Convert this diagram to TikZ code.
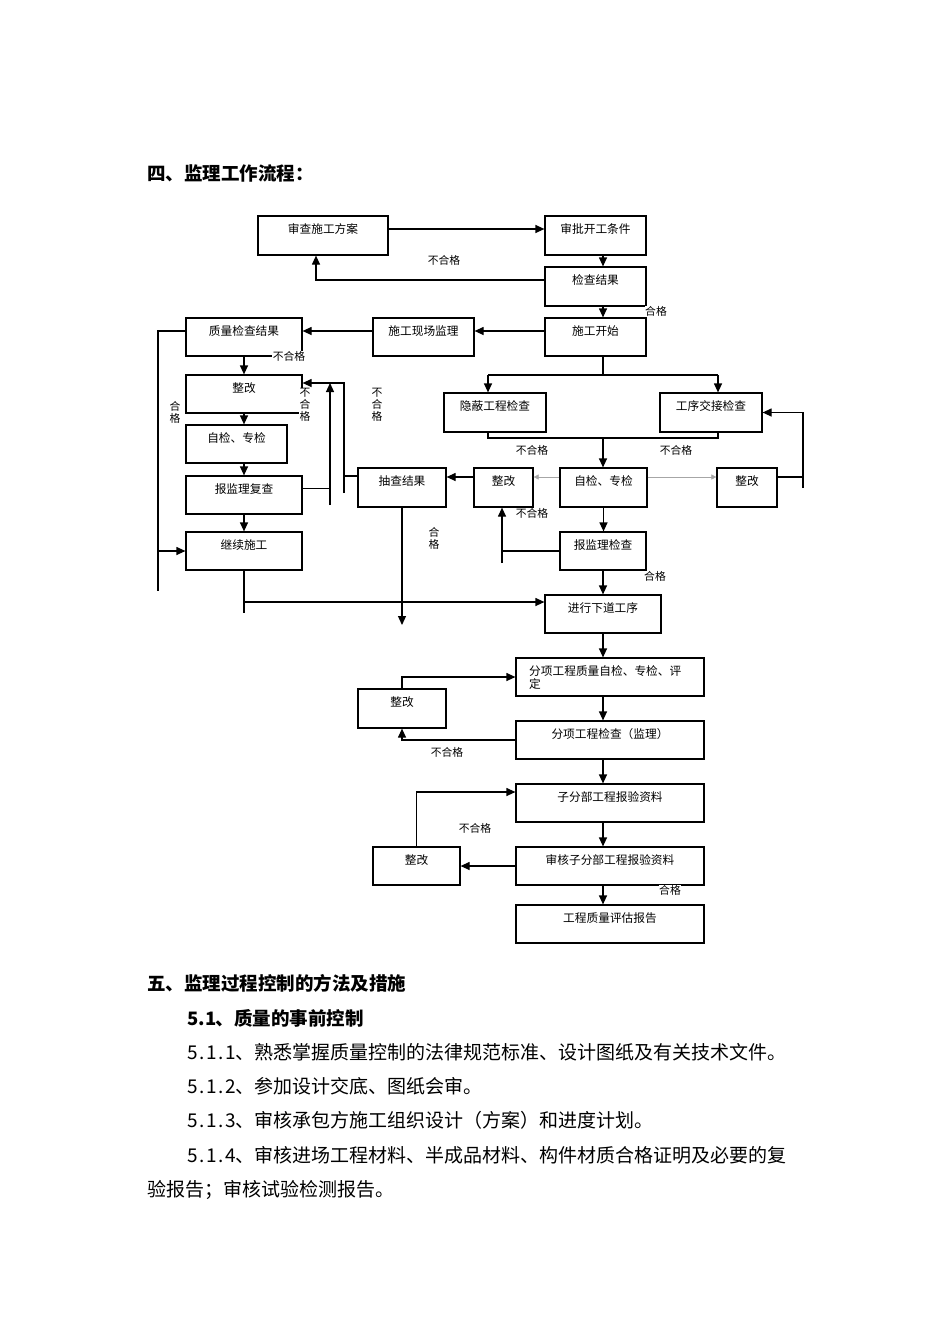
\documentclass[tikz,border=0pt]{standalone}
\usepackage{fontspec}
\setmainfont{Noto Sans CJK SC}
\usetikzlibrary{arrows.meta}
\newcommand\hw[1]{\makebox[0.5em]{#1}}
\newcommand\bxf{\fontsize{11.7}{13}\selectfont}
\newcommand\lbf{\fontsize{10.8}{12}\selectfont}
\begin{document}
\begin{tikzpicture}[x=1pt,y=-1pt,
  box/.style={draw, line width=1.2pt, inner sep=0pt, minimum height=39pt, text height=10pt, text depth=14pt, font=\bxf},
  ln/.style={line width=1.2pt},
  arr/.style={ln, -{Triangle[length=9pt,width=8pt]}},
  faint/.style={line width=0.6pt, draw=black!35, -{Triangle[length=5pt,width=5pt]}},
  lab/.style={inner sep=0.5pt, font=\lbf, fill=white},
  vlab/.style={inner sep=0.5pt, font=\lbf, align=center, fill=white},
  body/.style={anchor=base west, inner sep=0pt, font=\fontsize{19}{19}\selectfont},
  head/.style={anchor=base west, inner sep=0pt, font=\fontsize{18.5}{19}\selectfont\bfseries}]
\useasboundingbox (0,0) rectangle (950,1344);

% headings
\node[head] (h4) at (147,180) {四、监理工作流程：};

% boxes
\node[box, minimum width=130pt] (n1) at (323,235.5) {审查施工方案};
\node[box, minimum width=101pt] (n2) at (595.5,235.5) {审批开工条件};
\node[box, minimum width=101pt] (n3) at (595.5,286.5) {检查结果};
\node[box, minimum width=101pt, minimum height=38pt] (n4) at (595.5,337) {施工开始};
\node[box, minimum width=101pt, minimum height=38pt] (n5) at (423.5,337) {施工现场监理};
\node[box, minimum width=116pt, minimum height=38pt] (n6) at (244,337) {质量检查结果};
\node[box, minimum width=116pt, minimum height=38pt] (n7) at (244,394) {整改};
\node[box, minimum width=101pt, minimum height=38pt] (n8) at (236.5,444) {自检、专检};
\node[box, minimum width=116pt, minimum height=38pt] (n9) at (244,495) {报监理复查};
\node[box, minimum width=116pt, minimum height=38pt] (n10) at (244,551) {继续施工};
\node[box, minimum width=88pt] (n11) at (402,487.5) {抽查结果};
\node[box, minimum width=102pt] (n12) at (495,412.5) {隐蔽工程检查};
\node[box, minimum width=102pt] (n13) at (711,412.5) {工序交接检查};
\node[box, minimum width=59pt] (n14) at (503.5,487.5) {整改};
\node[box, minimum width=87pt] (n15) at (603.5,487.5) {自检、专检};
\node[box, minimum width=60pt] (n16) at (747,487.5) {整改};
\node[box, minimum width=86pt, minimum height=38pt] (n17) at (603,551) {报监理检查};
\node[box, minimum width=116pt, minimum height=38pt] (n18) at (603,614) {进行下道工序};
\node[box, minimum width=188pt, minimum height=38pt] (n19) at (610,677) {};
\node[anchor=base west, inner sep=0pt, align=left, font=\bxf] (n19t) at (529,688.5) {分项工程质量自检、专检、评\\定};
\node[box, minimum width=88pt] (n20) at (402,708.5) {整改};
\node[box, minimum width=188pt, minimum height=38pt] (n21) at (610,740) {分项工程检查（监理）};
\node[box, minimum width=188pt, minimum height=38pt] (n22) at (610,803) {子分部工程报验资料};
\node[box, minimum width=188pt, minimum height=38pt] (n23) at (610,866) {审核子分部工程报验资料};
\node[box, minimum width=87pt, minimum height=38pt] (n24) at (416.5,866) {整改};
\node[box, minimum width=188pt, minimum height=38pt] (n25) at (610,924) {工程质量评估报告};

% free-end coordinates
\coordinate (L0) at (158,331);
\coordinate (L1) at (158,591);
\coordinate (V1b) at (330,505);
\coordinate (V1t) at (330,383);
\coordinate (V2b) at (344,493);
\coordinate (V2t) at (344,383);
\coordinate (D1) at (402,625);
\coordinate (C1) at (244,613);
\coordinate (S1) at (603,375);
\coordinate (S1a) at (488,375);
\coordinate (S1b) at (718,375);
\coordinate (S2) at (603,438);
\coordinate (V3b) at (803,488);
\coordinate (V4b) at (502,563);

% top chain
\draw[arr] ([yshift=6.5pt]n1.east) -- ([yshift=6.5pt]n2.west);
\draw[arr] ([xshift=7.5pt]n2.south) -- ([xshift=7.5pt]n3.north);
\draw[arr] ([yshift=6.5pt]n3.west) -| ([xshift=-7pt]n1.south);
\draw[arr] ([xshift=7.5pt]n3.south) -- ([xshift=7.5pt]n4.north);
\draw[arr] ([yshift=6pt]n4.west) -- ([yshift=6pt]n5.east);
\draw[arr] ([yshift=6pt]n5.west) -- ([yshift=6pt]n6.east);

% left column
\draw[arr] (n6.south) -- (n7.north);
\draw[arr] (n7.south) -- (n7.south |- n8.north);
\draw[arr] (n7.south |- n8.south) -- (n9.north);
\draw[arr] (n9.south) -- (n10.north);
\draw[ln] ([yshift=6pt]n6.west) -- (L0) -- (L1);
\draw[arr] (L0 |- n10.west) -- (n10.west);
\draw[ln] ([yshift=6.5pt]n9.east) -- ([yshift=6.5pt]n9.east -| V1b);
\draw[arr] (V1b) -- (V1t);
\draw[ln] ([yshift=11.5pt]n11.west) -- ([yshift=11.5pt]n11.west -| V2b);
\draw[arr] (V2b) -- (V2t) -- ([yshift=11pt]n7.east);
\draw[ln] (n10.south) -- (C1);
\draw[arr] (n10.south |- 0,602) -- ([yshift=12pt]n18.west);
\draw[arr] (n11.south) -- (D1);

% middle
\draw[ln] ([xshift=7.5pt]n4.south) -- (S1);
\draw[ln] (S1a) -- (S1b);
\draw[arr] (S1a) -- ([xshift=-7pt]n12.north);
\draw[arr] (S1b) -- ([xshift=7pt]n13.north);
\draw[ln] ([xshift=-7pt]n12.south) |- (S2) -| ([xshift=7pt]n13.south);
\draw[arr] (S2) -- (S2 |- n15.north);
\draw[arr] ([yshift=10.5pt]n14.west) -- ([yshift=10.5pt]n11.east);
\draw[faint] ([yshift=10.5pt]n15.west) -- ([yshift=10.5pt]n14.east);
\draw[faint] ([yshift=10.5pt]n15.east) -- ([yshift=10.5pt]n16.west);
\draw[ln] ([yshift=10.5pt]n16.east) -- ([yshift=10.5pt]n16.east -| V3b);
\draw[arr] (V3b) |- (n13.east);
\draw[arr] (n15.south) -- (n15.south |- n17.north);
\draw[ln] (n17.west) -- (n17.west -| V4b);
\draw[arr] (V4b) -- (V4b |- n14.south);
\draw[arr] (n17.south) -- (n18.north);

% lower chain
\draw[arr] (n18.south) -- (n18.south |- n19.north);
\draw[arr] (n20.north) |- (n19.west);
\draw[arr] (n18.south |- n19.south) -- (n18.south |- n21.north);
\draw[arr] (n21.west) -| (n20.south);
\draw[arr] (n18.south |- n21.south) -- (n18.south |- n22.north);
\draw[arr] (n18.south |- n22.south) -- (n18.south |- n23.north);
\draw[arr] (n23.west) -- (n24.east);
\draw[arr] (n24.north) |- ([yshift=11pt]n22.west);
\draw[arr] (n18.south |- n23.south) -- (n18.south |- n25.north);

% labels
\node[lab] (t1) at (444,260) {不合格};
\node[lab] (t2) at (656,311) {合格};
\node[lab] (t3) at (289,356) {不合格};
\node[vlab] (t4) at (175,412) {合\\格};
\node[vlab] (t5) at (305,405) {不\\合\\格};
\node[vlab] (t6) at (377,405) {不\\合\\格};
\node[lab] (t7) at (532,450) {不合格};
\node[lab] (t8) at (676,450) {不合格};
\node[lab] (t9) at (532,513) {不合格};
\node[vlab] (t10) at (434,538) {合\\格};
\node[lab] (t11) at (655,576) {合格};
\node[lab] (t12) at (447,752) {不合格};
\node[lab] (t13) at (475,828) {不合格};
\node[lab] (t14) at (670,890) {合格};

% text below
\node[head] (h5) at (147,990) {五、监理过程控制的方法及措施};
\node[head] (h51) at (188,1025) {\hw{5}\hw{.}\hw{1}、质量的事前控制};
\node[body] (p1) at (188,1059) {\hw{5}\hw{.}\hw{1}\hw{.}\hw{1}、熟悉掌握质量控制的法律规范标准、设计图纸及有关技术文件。};
\node[body] (p2) at (188,1093) {\hw{5}\hw{.}\hw{1}\hw{.}\hw{2}、参加设计交底、图纸会审。};
\node[body] (p3) at (188,1127) {\hw{5}\hw{.}\hw{1}\hw{.}\hw{3}、审核承包方施工组织设计（方案）和进度计划。};
\node[body] (p4) at (188,1162) {\hw{5}\hw{.}\hw{1}\hw{.}\hw{4}、审核进场工程材料、半成品材料、构件材质合格证明及必要的复};
\node[body] (p5) at (147,1196) {验报告；审核试验检测报告。};
\end{tikzpicture}
\end{document}
